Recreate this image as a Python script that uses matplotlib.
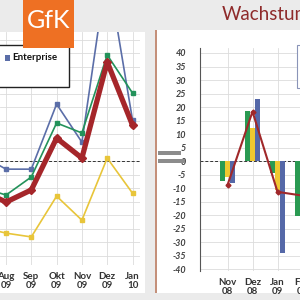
import matplotlib
matplotlib.use('Agg')
import matplotlib.pyplot as plt
from matplotlib.patches import Rectangle

# left panel: monthly lines (Jul 09 .. Jan 10)
months_left = ['Jul\n09', 'Aug\n09', 'Sep\n09', 'Okt\n09', 'Nov\n09', 'Dez\n09', 'Jan\n10']
total = [-10.7, -15.2, -10.7, 8.5, 1.1, 36.7, 13.3]
green_line = [-9.6, -12.6, -5.9, 14.1, 10.4, 39.3, 25.2]
enterprise = [2.2, -3.0, -3.0, 21.1, 7.0, 71.5, 15.2]
yellow_line = [-24.4, -26.7, -28.1, -13.0, -21.9, 1.1, -11.9]

# right panel: growth bars (Nov 08 .. Feb 09)
months_right = ['Nov\n08', 'Dez\n08', 'Jan\n09', 'Feb\n09']
green_bars = [-7.4, 18.5, -4.5, -20.4]
yellow_bars = [-6.0, 12.2, -10.7, -15.0]
blue_bars = [-8.2, 23.0, -34.0, -18.0]
growth_line = [-8.9, 18.3, -11.4, -12.8]
right_ticks = list(range(-40, 45, 5))

W = H = 300.0


def frac(x0, y0, x1, y1):
    # pixel box (from top-left) -> figure fraction rect
    return [x0 / W, 1 - y1 / H, (x1 - x0) / W, (y1 - y0) / H]


def box(x0, y0, x1, y1, **kw):
    r = Rectangle((x0 / W, 1 - y1 / H), (x1 - x0) / W, (y1 - y0) / H,
                  transform=fig.transFigure, **kw)
    fig.patches.append(r)
    return r


fig = plt.figure(figsize=(3, 3), dpi=100)
fig.patch.set_facecolor('#ebebeb')

# white panels and separator
box(0, 32, 145, 293, facecolor='white', edgecolor='none', zorder=-1)
box(156, 30, 300, 293, facecolor='white', edgecolor='none', zorder=-1)
box(155, 30, 157, 293, facecolor='#c4907a', edgecolor='none', zorder=-1)

tick_font = dict(family='Lato', fontsize=7, fontweight='bold', color='#333333')

# ---- left line chart
ax = fig.add_axes(frac(0, 32, 140, 265))
ax.set_facecolor('white')
xl = range(len(months_left))
ax.plot(xl, yellow_line, color='#e8c53a', lw=1.2, marker='s', ms=3, zorder=3)
ax.plot(xl, enterprise, color='#5b6ea8', lw=1.2, marker='s', ms=3, zorder=3)
ax.plot(xl, green_line, color='#23925a', lw=1.2, marker='s', ms=3, zorder=3)
ax.plot(xl, total, color='#a5262a', lw=3.8, marker='D', ms=4, zorder=4)
ax.axhline(0, color='#333333', lw=0.7, ls=(0, (3, 2)), zorder=2)
# the Jul column lies outside the visible crop, so only Aug..Jan get labels
ax.set_xticks(list(xl)[1:])
ax.set_xticklabels(months_left[1:], **tick_font, linespacing=0.95)
ax.set_yticks(range(-35, 50, 5))
# limits after ticks (set_xticks would widen them)
ax.set_xlim(0.763, 6.296)
ax.set_ylim(-38.5, 47.8)
ax.tick_params(axis='y', left=False, labelleft=False)
ax.tick_params(axis='x', length=0, pad=5)
ax.grid(True, color='#dcdcdc', lw=0.6)
ax.set_axisbelow(True)
for s in ax.spines.values():
    s.set_visible(False)

# ---- right bar chart (runs a little past the right edge of the picture)
ax2 = fig.add_axes(frac(200, 48, 302.5, 271))
ax2.set_facecolor('white')
xr = list(range(len(months_right)))
bw = 0.2
ax2.bar([i - bw for i in xr], green_bars, bw, color='#2a9a52', zorder=3)
ax2.bar(xr, yellow_bars, bw, color='#f0c830', zorder=3)
ax2.bar([i + bw for i in xr], blue_bars, bw, color='#5568a8', zorder=3)
ax2.plot(xr, growth_line, color='#a0282a', lw=1.5, marker='D', ms=2.5, zorder=4)
ax2.axhline(0, color='#333333', lw=0.7, ls=(0, (3, 2)), zorder=2)
ax2.set_yticks(right_ticks)
ax2.set_yticklabels([str(t) for t in right_ticks], family='Lato', fontsize=6.5,
                    style='italic', fontweight='bold', color='#404040')
ax2.set_xticks(xr)
ax2.set_xticklabels(months_right, **tick_font, linespacing=0.95)
ax2.set_xlim(-1.1, 3.0)
ax2.set_ylim(-40.7, 41.85)
ax2.tick_params(axis='x', length=0, pad=5)
ax2.tick_params(axis='y', length=0, pad=10)
ax2.grid(True, color='#dcdcdc', lw=0.6)
ax2.set_axisbelow(True)
for k, s in ax2.spines.items():
    s.set_visible(k == 'left')
ax2.spines['left'].set_color('#555555')
ax2.spines['left'].set_linewidth(0.8)

# legend fragments
box(-2, 45, 69, 87, facecolor='white', edgecolor='#222222', lw=1.0, zorder=5)
box(5, 55, 10, 61, facecolor='#5b6ea8', edgecolor='none', zorder=6)
fig.text(12 / W, 1 - 58 / H, 'Enterprise', family='Lato', fontsize=7,
         fontweight='bold', color='#111111', va='center', ha='left', zorder=6)
box(297, 45, 310, 88, facecolor='white', edgecolor='#8a94b8', lw=0.8, zorder=5)

# "=" sign
box(158, 151, 181, 155, facecolor='#8c8c8c', edgecolor='none', zorder=5)
box(158, 159, 185, 163, facecolor='#8c8c8c', edgecolor='none', zorder=5)

# GfK logo
box(23, 0, 74, 48, facecolor='#ee7023', edgecolor='none', zorder=7)
fig.text(48.5 / W, 1 - 21 / H, 'GfK', family='Lato', fontsize=18,
         color='white', ha='center', va='center', zorder=8)

# title (cut off at the right edge, as in the source)
fig.text(222 / W, 1 - 20 / H, 'Wachstum', family='Lato', fontsize=13.5,
         color='#8e2a2a', ha='left', va='baseline')

fig.savefig('out.png', dpi=100, facecolor=fig.get_facecolor())
